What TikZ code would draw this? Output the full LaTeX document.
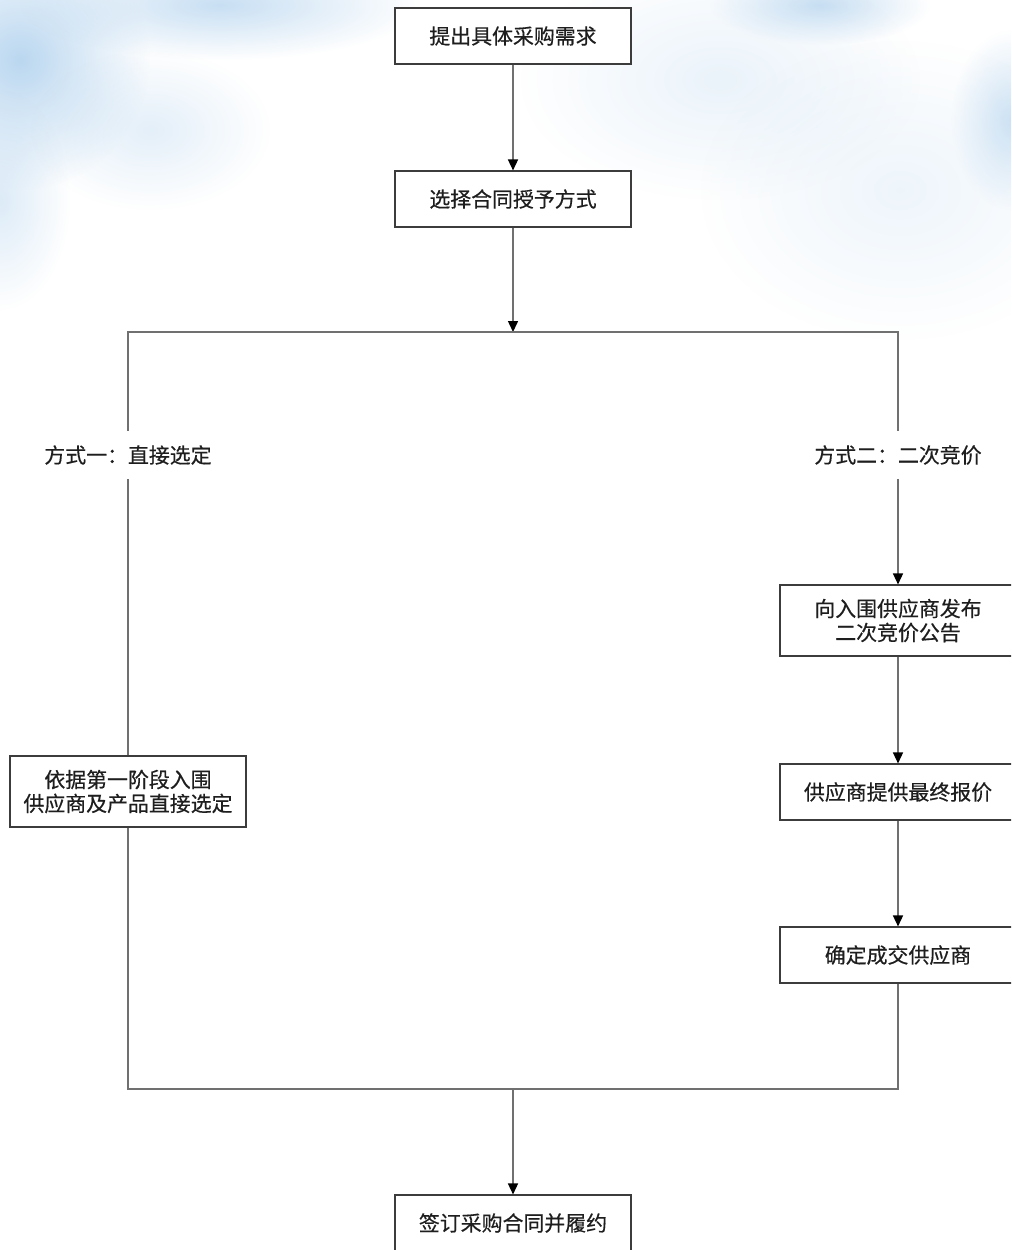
\documentclass[tikz,border=0pt]{standalone}
\usepackage{fontspec}
\setmainfont{Noto Sans CJK SC}[FakeBold=0.4]
\usetikzlibrary{arrows.meta,fadings}

\definecolor{sky}{RGB}{186,215,240}
\definecolor{frame}{RGB}{60,60,60}
\definecolor{wire}{RGB}{112,112,112}
\definecolor{ink}{RGB}{30,30,30}

\tikzfading[name=soft, inner color=transparent!0, outer color=transparent!100]

\tikzset{
  stepbox/.style={draw=frame, line width=0.65pt, fill=white, text=ink,
    minimum width=4.72cm, minimum height=1.12cm, align=center,
    font=\fontsize{11.9}{13.6}\selectfont},
  tallbox/.style={stepbox, minimum height=1.42cm},
  way/.style={text=ink, minimum height=0.96cm, font=\fontsize{11.9}{13.6}\selectfont},
  wire/.style={draw=wire, line width=0.85pt},
  flow/.style={wire, -{Triangle[length=2.2mm, width=2mm, color=black]}},
  puff/.style={fill=sky, path fading=soft}
}

\begin{document}
\begin{tikzpicture}[x=0.02cm, y=-0.02cm]
  \useasboundingbox (0,0) rectangle (1011,1250);
  \clip (0,0) rectangle (1011,1250);
  \fill[white] (0,0) rectangle (1011,1250);

  % sky
  \fill[puff]               (20,60)    ellipse [x radius=2.6cm, y radius=2.6cm];
  \fill[puff, opacity=0.8]  (220,5)    ellipse [x radius=4cm,   y radius=1.1cm];
  \fill[puff, opacity=0.5]  (0,200)    ellipse [x radius=1.4cm, y radius=2.2cm];
  \fill[puff, opacity=0.4]  (150,130)  ellipse [x radius=2.4cm, y radius=1.6cm];
  \fill[puff, opacity=0.8]  (820,5)    ellipse [x radius=2.2cm, y radius=0.8cm];
  \fill[puff, opacity=0.7]  (1011,120) ellipse [x radius=1.2cm, y radius=1.8cm];
  \fill[puff, opacity=0.3]  (720,80)   ellipse [x radius=4cm,   y radius=2.4cm];
  \fill[puff, opacity=0.25] (900,190)  ellipse [x radius=4cm,   y radius=3cm];

  % steps
  \node[stepbox] (need)   at (513,36)    {提出具体采购需求};
  \node[stepbox] (mode)   at (513,199)   {选择合同授予方式};
  \node[way]     (way1)   at (128,455)   {方式一：直接选定};
  \node[way]     (way2)   at (898,455)   {方式二：二次竞价};
  \node[tallbox] (pick)   at (128,791.5) {依据第一阶段入围\\供应商及产品直接选定};
  \node[tallbox] (notice) at (898,620.5) {向入围供应商发布\\二次竞价公告};
  \node[stepbox] (quote)  at (898,792)   {供应商提供最终报价};
  \node[stepbox] (deal)   at (898,955)   {确定成交供应商};
  \node[stepbox] (sign)   at (513,1223)  {签订采购合同并履约};

  \coordinate (split) at (513,332);
  \coordinate (tl)    at (128,332);
  \coordinate (tr)    at (898,332);
  \coordinate (bl)    at (128,1089);
  \coordinate (br)    at (898,1089);
  \coordinate (merge) at (513,1089);

  % connectors
  \draw[flow] (need) -- (mode);
  \draw[flow] (mode) -- (split);
  \draw[wire] (way1) -- (tl) -- (tr) -- (way2);
  \draw[wire] (way1) -- (pick);
  \draw[flow] (way2) -- (notice);
  \draw[flow] (notice) -- (quote);
  \draw[flow] (quote) -- (deal);
  \draw[wire] (pick) -- (bl) -- (br) -- (deal);
  \draw[flow] (merge) -- (sign);
\end{tikzpicture}
\end{document}
